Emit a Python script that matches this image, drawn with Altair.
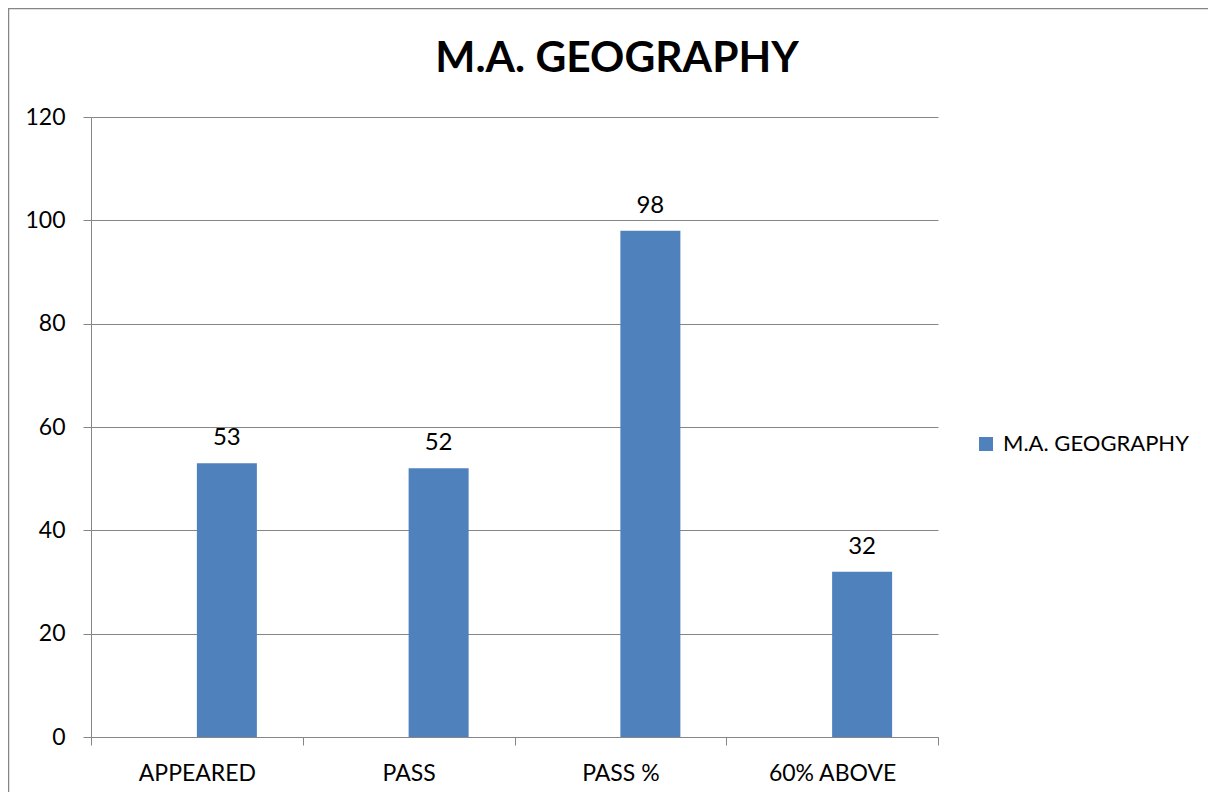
import altair as alt
import pandas as pd

categories = ["APPEARED", "PASS", "PASS %", "60% ABOVE"]
values = [53, 52, 98, 32]
series_name = "M.A. GEOGRAPHY"
y_ticks = [0, 20, 40, 60, 80, 100, 120]

df = pd.DataFrame({"category": categories, "value": values,
                   "series": [series_name] * len(categories)})

W, H = 847, 620
PL, PT, PR, PB = 83, 109, 270, 55
FONT = "Lato"
GRAY = "#868686"
BLUE = "#4F81BD"

x_enc = alt.X("category:N", sort=categories,
              scale=alt.Scale(paddingInner=0, paddingOuter=0),
              axis=alt.Axis(title=None, labelAngle=0, tickBand="extent",
                            domainColor=GRAY, tickColor=GRAY, tickSize=8,
                            labelFont=FONT, labelFontSize=23, labelColor="black",
                            labelBaseline="alphabetic", labelPadding=35, grid=False))
y_enc = alt.Y("value:Q", scale=alt.Scale(domain=[0, 120], nice=False),
              axis=alt.Axis(title=None, values=y_ticks, grid=True, gridColor=GRAY,
                            domainColor=GRAY, tickColor=GRAY, tickSize=8,
                            labelFont=FONT, labelFontSize=23, labelColor="black",
                            labelPadding=18))

base = alt.Chart(df)

bars = base.mark_bar(size=60, xOffset=30).encode(
    x=x_enc, y=y_enc,
    color=alt.Color("series:N",
                    scale=alt.Scale(domain=[series_name], range=[BLUE]),
                    legend=alt.Legend(title=None, orient="none", legendX=884, legendY=316,
                                      symbolType="square", symbolSize=196,
                                      symbolStrokeWidth=0, labelLimit=0,
                                      labelFont=FONT, labelFontSize=22,
                                      labelColor="black", labelOffset=6)))

labels = base.mark_text(dx=30, dy=-18, baseline="alphabetic", font=FONT,
                        fontSize=24, color="black").encode(
    x=alt.X("category:N", sort=categories), y="value:Q", text="value:Q")

title_df = pd.DataFrame({"t": [series_name]})
title = alt.Chart(title_df).mark_text(font=FONT, fontSize=42.5, fontWeight="bold",
                                      color="black", baseline="alphabetic",
                                      align="center").encode(
    text="t:N", x=alt.value(526), y=alt.value(-45))

left_border = alt.Chart(title_df).mark_rule(color=GRAY, strokeWidth=1.5).encode(
    x=alt.value(-82.5), y=alt.value(-PT), y2=alt.value(H + PB))
top_border = alt.Chart(title_df).mark_rule(color=GRAY, strokeWidth=1.5).encode(
    x=alt.value(-PL), x2=alt.value(W + PR), y=alt.value(-108.5))

chart = alt.layer(bars, labels, title, left_border, top_border).properties(
    width=W, height=H,
    padding={"left": PL, "top": PT, "right": PR, "bottom": PB},
    autosize=alt.AutoSizeParams(type="none"),
).configure_view(stroke=None)

chart.save("out.html", embed_options={"renderer": "svg", "actions": False})
